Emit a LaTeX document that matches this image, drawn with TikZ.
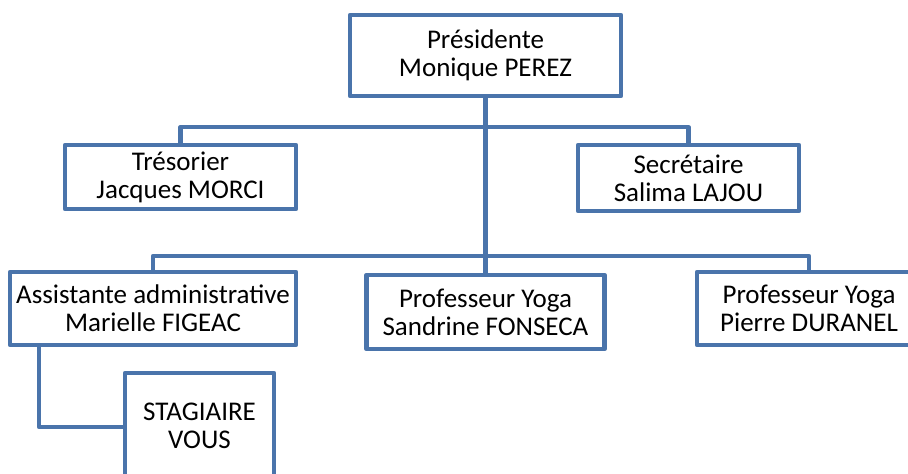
\documentclass[tikz,border=0pt]{standalone}
\usepackage{fontspec}
\setmainfont{Carlito}
\usepackage{tikz}
\definecolor{cadre}{HTML}{4A74AB}
\tikzset{
	poste/.style={draw=cadre, line width=2.2pt, fill=white, align=center, inner sep=0pt, line join=round,
		font=\fontsize{13.5}{14}\selectfont},
	lien/.style={draw=cadre, line width=2.1pt, line join=round}
}

\begin{document}
\begin{tikzpicture}[x=0.5pt, y=-0.5pt]
		%%%%% START %%%%%
		
		\clip (0, 0) rectangle (908, 474);
		\useasboundingbox (0, 0) rectangle (908, 474);
		
		\coordinate (haut) at (485.5, 127);
		\coordinate (bas) at (485.5, 256);
		\coordinate (coude) at (39, 427);
		
		\node[poste, minimum width=135.5pt, minimum height=40.5pt] (pres) at (485.5, 55.5) {Présidente\\Monique PEREZ};
		\node[poste, minimum width=115.5pt, minimum height=32pt] (tres) at (180.5, 177) {Trésorier\\Jacques MORCI};
		\node[poste, minimum width=110.5pt, minimum height=33pt] (secr) at (688.5, 178) {Secrétaire\\Salima LAJOU};
		
		\node[poste, minimum width=143pt, minimum height=36.5pt] (assist) at (153, 308.5) {Assistante administrative\\Marielle FIGEAC};
		\node[poste, minimum width=119pt, minimum height=37pt] (prof1) at (485.5, 312) {Professeur Yoga\\Sandrine FONSECA};
		\node[poste, minimum width=112pt, minimum height=36.5pt] (prof2) at (809, 308.5) {Professeur Yoga\\Pierre DURANEL};
		
		\node[poste, minimum width=74.5pt, minimum height=53pt] (stag) at (199.5, 426) {STAGIAIRE\\VOUS};
		
		\draw[lien] (pres.south) -- (bas);
		\draw[lien] (tres.north) |- (haut) -| (secr.north);
		\draw[lien] (assist.north) |- (bas) -| (prof2.north);
		\draw[lien] (prof1.north) -- (bas);
		\draw[lien] (assist.south -| coude) |- (stag.west |- coude);
		
		%%%%% END %%%%%
	\end{tikzpicture}
\end{document}
